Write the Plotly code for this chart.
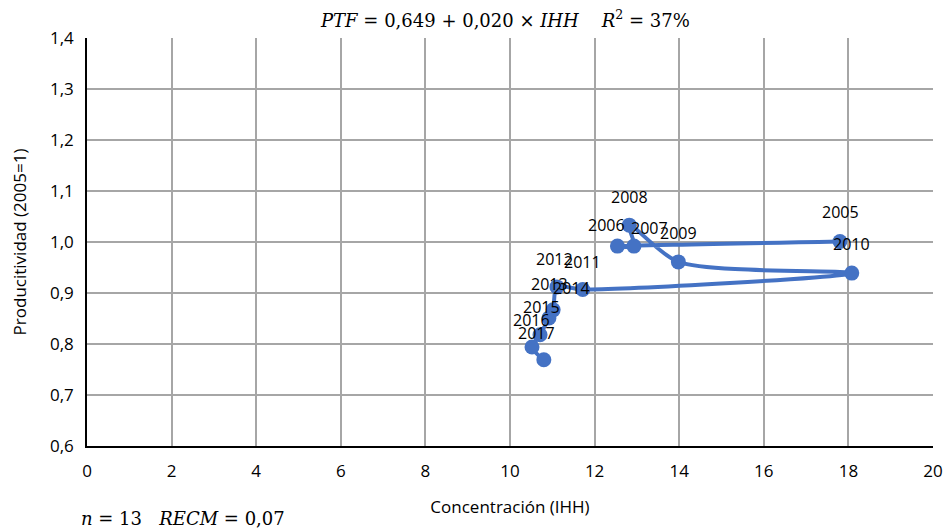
import plotly.graph_objects as go

years = ["2005", "2006", "2007", "2008", "2009", "2010", "2011",
         "2012", "2013", "2014", "2015", "2016", "2017"]
ihh = [17.80, 12.54, 12.93, 12.82, 13.98, 18.08, 11.72,
       11.11, 11.02, 10.92, 10.71, 10.52, 10.80]
ptf = [1.001, 0.992, 0.992, 1.033, 0.961, 0.939, 0.907,
       0.912, 0.867, 0.851, 0.818, 0.794, 0.769]

# label pixel offsets (dx, dy) relative to each point
label_dx = [1, -11, 16, 0, 0, 0, 0, -2, -4, 23, 1, -1, -7]
label_dy = [29, 21, 18, 28, 29, 29, 27, 28, 26, 30, 28, 27, 27]

x_ticks = list(range(0, 21, 2))
y_ticks = [0.6, 0.7, 0.8, 0.9, 1.0, 1.1, 1.2, 1.3, 1.4]

BLUE = "#4472C4"
FONT = "Open Sans"
MATH = "DejaVu Serif"

fig = go.Figure()
fig.add_trace(go.Scatter(
    x=ihh, y=ptf, mode="lines+markers",
    line=dict(color=BLUE, width=4, shape="spline", smoothing=0.8),
    marker=dict(color=BLUE, size=15),
    hoverinfo="skip", showlegend=False,
))

for yr, xv, yv, dx, dy in zip(years, ihh, ptf, label_dx, label_dy):
    fig.add_annotation(x=xv, y=yv, text=yr, showarrow=False,
                       xshift=dx, yshift=dy,
                       font=dict(family=FONT, size=16, color="#000000"))

fig.add_annotation(xref="paper", yref="paper", x=0.494, y=1.0, yshift=19,
                   text="<i>PTF</i> = 0,649 + 0,020 × <i>IHH</i>    <i>R</i><sup>2</sup> = 37%",
                   showarrow=False, xanchor="center", yanchor="middle",
                   font=dict(family=MATH, size=18, color="#000000"))
fig.add_annotation(xref="paper", yref="paper", x=-0.009, y=0.0, yshift=-72,
                   text="<i>n</i> = 13   <i>RECM</i> = 0,07",
                   showarrow=False, xanchor="left", yanchor="middle",
                   font=dict(family=MATH, size=18, color="#000000"))

fig.update_layout(
    width=947, height=532,
    margin=dict(l=87, r=14, t=38, b=86, autoexpand=False),
    paper_bgcolor="white", plot_bgcolor="white",
    separators=",.",
    font=dict(family=FONT, size=16, color="#000000"),
    xaxis=dict(range=[0, 20], tickvals=x_ticks, showgrid=True,
               gridcolor="#a6a6a6", gridwidth=1.5,
               showline=True, linecolor="#000000", linewidth=1.5,
               zeroline=False, ticks="", ticklen=0, automargin=False,
               ticklabelstandoff=9,
               tickfont=dict(family=FONT, size=17),
               title=dict(text="Concentración (IHH)", standoff=20,
                          font=dict(family=FONT, size=17))),
    yaxis=dict(range=[0.6, 1.4], tickvals=y_ticks, tickformat=".1f",
               showgrid=True, gridcolor="#a6a6a6", gridwidth=1.5,
               showline=True, linecolor="#000000", linewidth=1.5,
               zeroline=False, ticks="", ticklen=0, automargin=False,
               ticklabelstandoff=8,
               tickfont=dict(family=FONT, size=17),
               title=dict(text="Producitividad (2005=1)", standoff=19,
                          font=dict(family=FONT, size=17))),
)

fig.write_html("out.html")
